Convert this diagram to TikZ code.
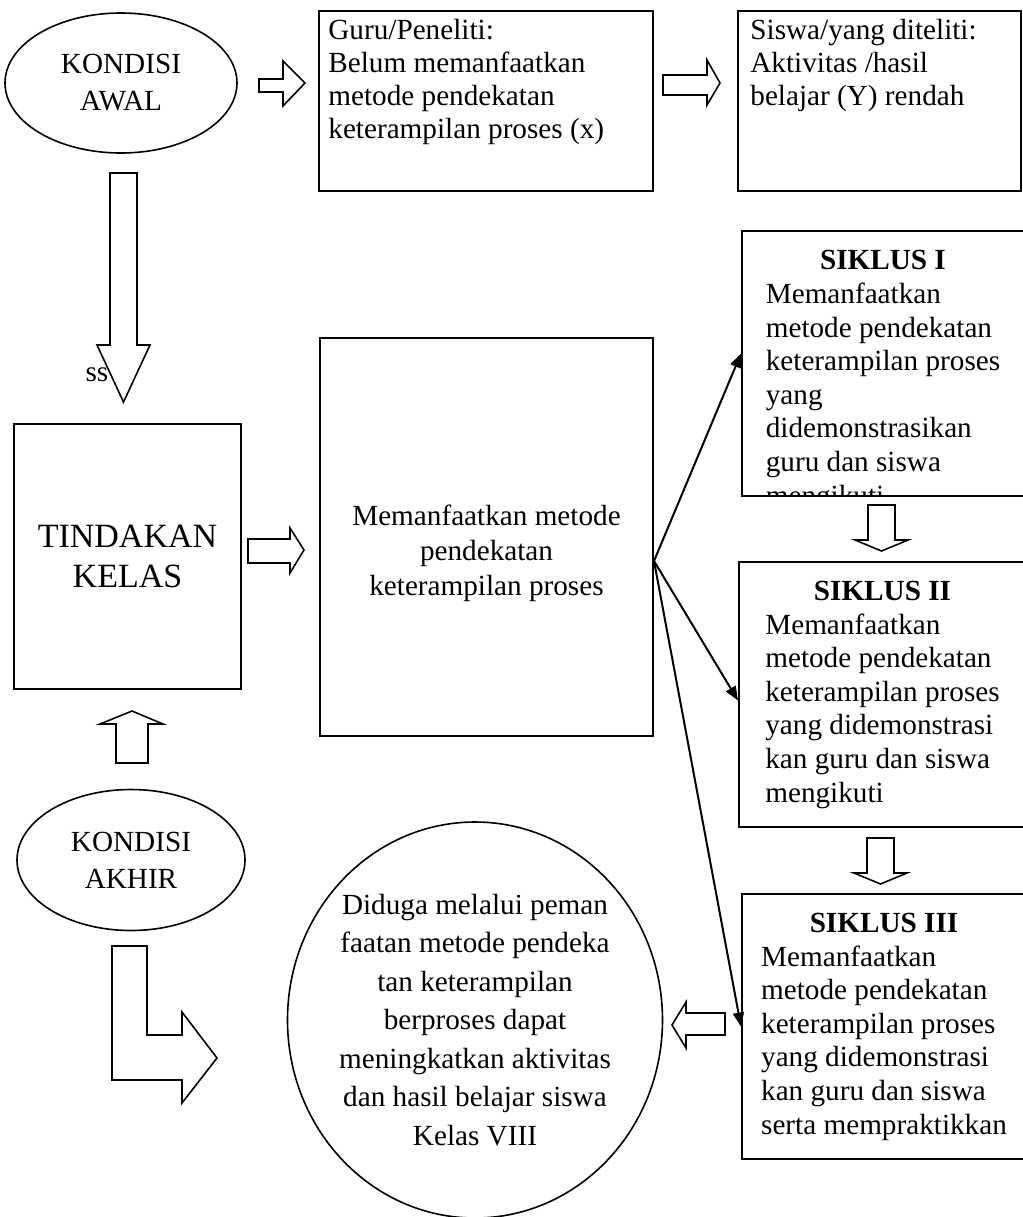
\documentclass[tikz,border=0pt]{standalone}
\usepackage{fontspec}
\setmainfont{Liberation Serif}
\usetikzlibrary{arrows.meta, positioning, shapes}

\begin{document}
\begin{tikzpicture}[
    x=0.5pt, y=-0.5pt,
    every node/.style = {font=\fontsize{14.6}{16.8}\selectfont, inner sep=0pt},
    box/.style = {draw=black, line width=1pt, rectangle, anchor=north west},
    oval/.style = {draw=black, line width=0.8pt, ellipse},
    boxText/.style = {align=left, font=\fontsize{14.6}{16.4}\selectfont},
    fanArrow/.style = {-{Triangle[length=7pt, width=5.5pt]}, line width=1pt},
    blockArrow/.style = {draw=black, line width=0.8pt, line join=miter}
]
\useasboundingbox (0,0) rectangle (1023,1217);

% kondisi awal
\node(Awal)[oval, minimum width=116pt, minimum height=70pt, align=center,
    font=\fontsize{14.6}{18.5}\selectfont] at (121,83) {KONDISI\\AWAL};
\draw[blockArrow] (259,79) -- (283,79) -- (283,61) -- (305,83) -- (283,106) -- (283,92) -- (259,92) -- cycle;

\node(Guru)[box, minimum width=167pt, minimum height=90pt] at (318,10) {};
\node(GuruText)[boxText, below right=4.5pt and 5pt of Guru.north west] {
    Guru/Peneliti:\\
    Belum memanfaatkan\\
    metode pendekatan\\
    keterampilan proses (x)
};
\draw[blockArrow] (663,75) -- (707,75) -- (707,60) -- (720,83) -- (707,105) -- (707,95) -- (663,95) -- cycle;

\node(Siswa)[box, minimum width=141.5pt, minimum height=90pt] at (737,10) {};
\node(SiswaText)[boxText, below right=4.5pt and 6.5pt of Siswa.north west] {
    Siswa/yang diteliti:\\
    Aktivitas /hasil\\
    belajar (Y) rendah
};

% tindakan
\draw[blockArrow] (110,173) -- (137,173) -- (137,345) -- (150,345) -- (123.5,402) -- (97,345) -- (110,345) -- cycle;
\node(Ss) at (97,375) {ss};

\node(Tindakan)[box, minimum width=113.5pt, minimum height=132.5pt, align=center,
    font=\fontsize{17}{20}\selectfont] at (13,423) {TINDAKAN\\KELAS};
\draw[blockArrow] (248,539) -- (290,539) -- (290,528) -- (304,550) -- (290,573) -- (290,563) -- (248,563) -- cycle;

\node(Method)[box, minimum width=166.5pt, minimum height=199pt] at (319,337) {};
\node(MethodText)[align=center, font=\fontsize{14.6}{17.5}\selectfont]
    at ([yshift=-8pt]Method.center) {
    Memanfaatkan metode\\
    pendekatan\\
    keterampilan proses
};

% siklus
\node(Siklus1)[box, minimum width=142pt, minimum height=132.5pt] at (741,230) {};
\begin{scope}
\clip (741,230) rectangle (1025,494);
\node(Siklus1Text)[anchor=north] at (883,246) {
    \begin{tabular}{@{}l@{}}
    \multicolumn{1}{@{}c@{}}{\textbf{SIKLUS I}}\\
    Memanfaatkan\\
    metode pendekatan\\
    keterampilan proses\\
    yang\\
    didemonstrasikan\\
    guru dan siswa\\
    mengikuti
    \end{tabular}
};
\end{scope}
\draw[blockArrow] (868,505) -- (895,505) -- (895,540) -- (908,540) -- (881.5,551) -- (855,540) -- (868,540) -- cycle;

\node(Siklus2)[box, minimum width=143.5pt, minimum height=132.5pt] at (738,561) {
    \begin{tabular}{@{}l@{}}
    \multicolumn{1}{@{}c@{}}{\textbf{SIKLUS II}}\\
    Memanfaatkan\\
    metode pendekatan\\
    keterampilan proses\\
    yang didemonstrasi\\
    kan guru dan siswa\\
    mengikuti
    \end{tabular}
};
\draw[blockArrow] (867,838) -- (894,838) -- (894,873) -- (907,873) -- (880.5,884) -- (854,873) -- (867,873) -- cycle;

\node(Siklus3)[box, minimum width=142pt, minimum height=132.5pt] at (741,893) {
    \begin{tabular}{@{}l@{}}
    \multicolumn{1}{@{}c@{}}{\textbf{SIKLUS III}}\\
    Memanfaatkan\\
    metode pendekatan\\
    keterampilan proses\\
    yang didemonstrasi\\
    kan guru dan siswa\\
    serta mempraktikkan
    \end{tabular}
};

\coordinate(Fan) at ([yshift=-12pt]Method.east);
\draw[fanArrow] (Fan) -- ([yshift=5pt]Siklus1.west);
\draw[fanArrow] (Fan) -- ([yshift=-3pt]Siklus2.west);
\draw[fanArrow] (Fan) -- (Siklus3.west);

% kondisi akhir
\draw[blockArrow] (116,763) -- (116,724) -- (100,724) -- (132,711) -- (163,724) -- (148,724) -- (148,763) -- cycle;
\node(Akhir)[oval, minimum width=114pt, minimum height=70.5pt, align=center,
    font=\fontsize{14.6}{18.5}\selectfont] at (131,860) {KONDISI\\AKHIR};
\draw[blockArrow] (112,946) -- (147,946) -- (147,1035) -- (182,1035) -- (182,1012) -- (217,1058)
    -- (182,1103) -- (182,1080) -- (112,1080) -- cycle;

\node(Dugaan)[oval, minimum width=187.5pt, minimum height=198pt] at (475,1020) {};
\node(DugaanText)[align=center, font=\fontsize{14.6}{19.25}\selectfont] at (Dugaan.center) {
    Diduga melalui peman\\
    faatan metode pendeka\\
    tan keterampilan\\
    berproses dapat\\
    meningkatkan aktivitas\\
    dan hasil belajar siswa\\
    Kelas VIII
};
\draw[blockArrow] (725,1013) -- (686,1013) -- (686,1002) -- (672,1025) -- (686,1048) -- (686,1035) -- (725,1035) -- cycle;

\end{tikzpicture}
\end{document}
